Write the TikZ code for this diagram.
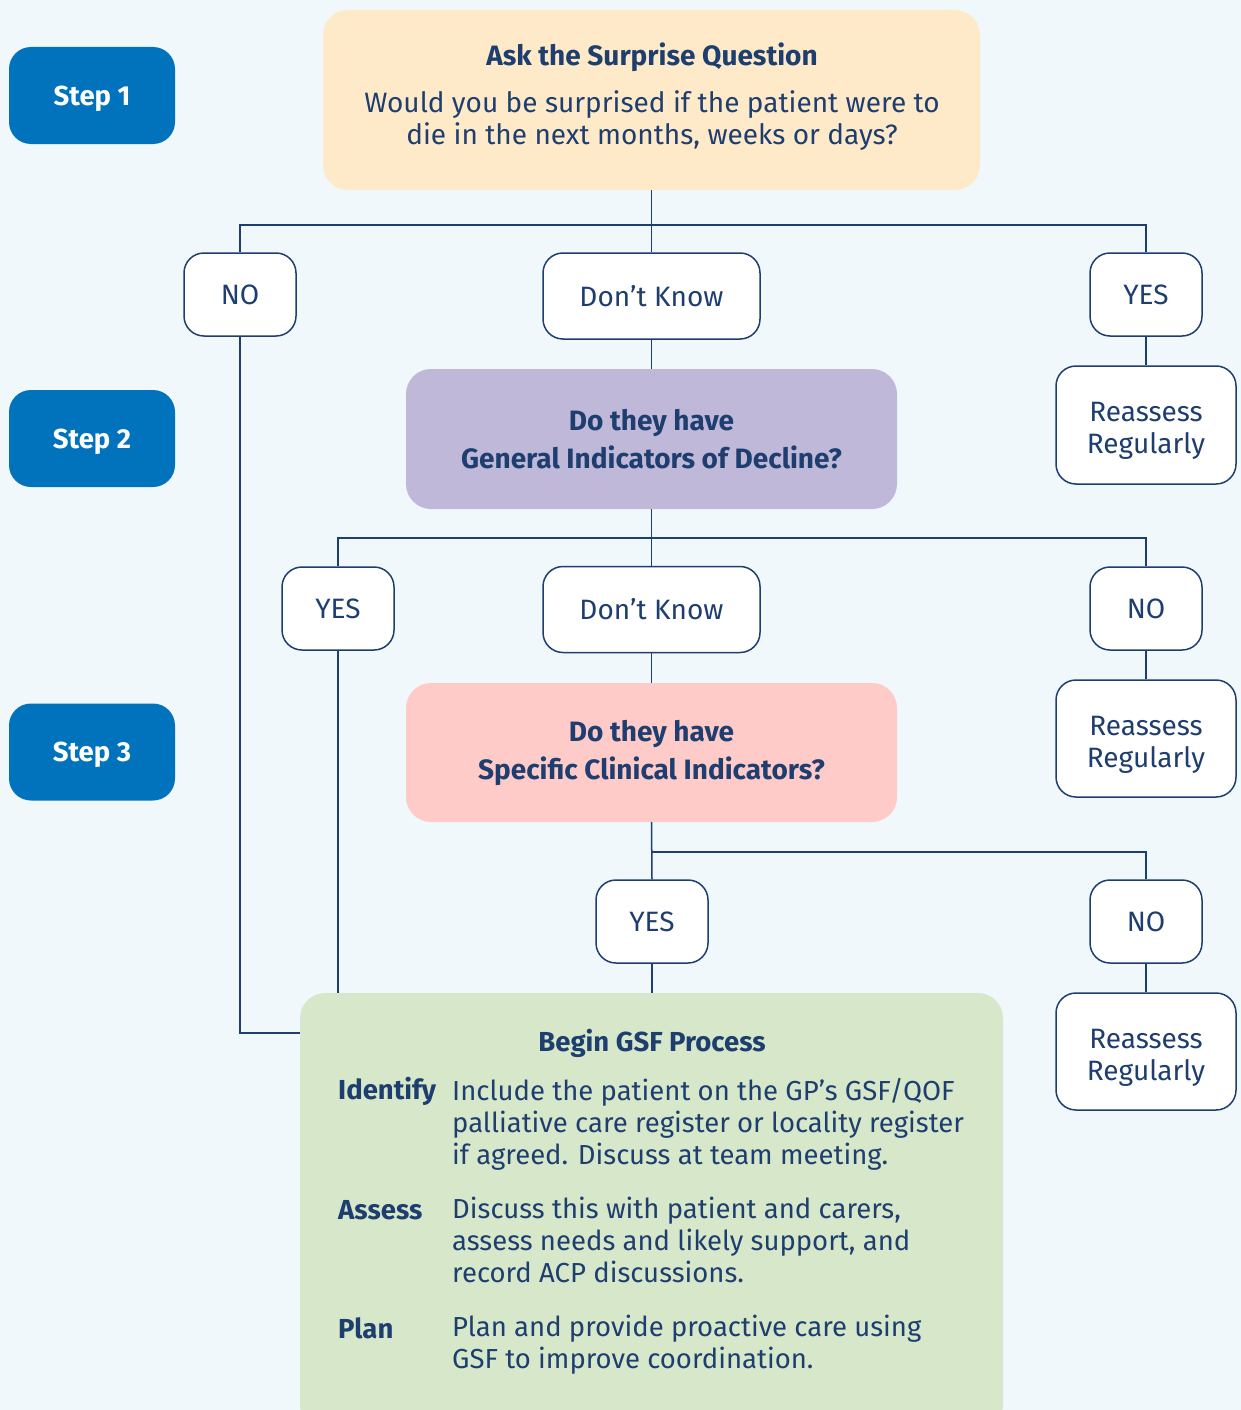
\documentclass[tikz,border=0pt]{standalone}
\usepackage{fontspec}
\setmainfont{Fira Sans}

\definecolor{bgblue}{RGB}{240,248,252}
\definecolor{stepblue}{RGB}{0,115,188}
\definecolor{peach}{RGB}{254,234,200}
\definecolor{lilac}{RGB}{191,184,216}
\definecolor{rose}{RGB}{254,203,200}
\definecolor{sage}{RGB}{214,232,201}
\definecolor{navy}{RGB}{30,62,112}

% invisible strut to lower two-line answers a little
\newcommand{\lowerstrut}{\rule{0pt}{31pt}}

\begin{document}
\begin{tikzpicture}[x=1pt,y=-1pt,
		stepbox/.style={fill=stepblue, rounded corners=22pt, minimum width=166pt, minimum height=97pt, inner sep=0pt, text depth=0pt, text=white, font=\fontsize{27.5}{32}\selectfont\bfseries},
		answer/.style={draw=navy, line width=1.5pt, fill=white, rounded corners=20pt, minimum width=112pt, minimum height=83pt, inner sep=0pt, text=navy, font=\fontsize{28}{32}\selectfont},
		reassess/.style={answer, minimum width=180pt, minimum height=118pt, align=center},
		question/.style={rounded corners=25pt, inner sep=0pt, text=navy, align=center},
		gsftext/.style={inner sep=0pt, text=navy, font=\fontsize{27.5}{32}\selectfont},
		link/.style={draw=navy, line width=1.5pt}]

			\clip (0,0) rectangle (1241,1410);
			\fill[bgblue] (0,0) rectangle (1241,1410);

			% step labels
			\node[stepbox] (step1) at (92,95.5) {Step 1};
			\node[stepbox] (step2) at (92,438.5) {Step 2};
			\node[stepbox] (step3) at (92,752) {Step 3};

			% questions
			\node[question, fill=peach, minimum width=657pt, minimum height=180pt] (ask) at (651.5,100) {};
			\node[text=navy, font=\fontsize{28}{32}\selectfont\bfseries] (asktitle) at (652,57) {Ask the Surprise Question};
			\node[text=navy, align=center, font=\fontsize{28}{32}\selectfont] (asktext) at (652,121) {Would you be surprised if the patient were to\\die in the next months, weeks or days?};

			\node[question, fill=lilac, minimum width=491pt, minimum height=140pt, font=\fontsize{28}{38}\selectfont\bfseries] (gid) at (651.5,439) {Do they have\\General Indicators of Decline?};
			\node[question, fill=rose, minimum width=491pt, minimum height=139pt, font=\fontsize{28}{38}\selectfont\bfseries] (sci) at (651.5,752.5) {Do they have\\Specific Clinical Indicators?};

			% answers, first row
			\node[answer] (no1) at (240,294.5) {NO};
			\node[answer, minimum width=217pt, minimum height=86pt] (dk1) at (651.5,296) {Don’t Know};
			\node[answer] (yes1) at (1146,294.5) {YES};
			\node[reassess] (re1) at (1146,425) {\lowerstrut Reassess\\Regularly};

			% answers, second row
			\node[answer] (yes2) at (338,608.5) {YES};
			\node[answer, minimum width=217pt, minimum height=86pt] (dk2) at (651.5,609.5) {Don’t Know};
			\node[answer] (no2) at (1146,608.5) {NO};
			\node[reassess, minimum height=117pt] (re2) at (1146,738.5) {\lowerstrut Reassess\\Regularly};

			% answers, third row
			\node[answer] (yes3) at (652,921.5) {YES};
			\node[answer] (no3) at (1146,921.5) {NO};
			\node[reassess, minimum height=117pt] (re3) at (1146,1051.5) {\lowerstrut Reassess\\Regularly};

			% GSF box
			\node[question, fill=sage, minimum width=703pt, minimum height=437pt] (gsf) at (651.5,1211.5) {};
			\node[gsftext, font=\fontsize{27.5}{32}\selectfont\bfseries] (gsftitle) at (652,1043) {Begin GSF Process};
			\node[gsftext, anchor=west, font=\fontsize{27.5}{32}\selectfont\bfseries] (lid) at (338,1091) {Identify};
			\node[gsftext, anchor=west, font=\fontsize{27.5}{32}\selectfont\bfseries] (las) at (338,1210) {Assess};
			\node[gsftext, anchor=west, font=\fontsize{27.5}{32}\selectfont\bfseries] (lpl) at (338,1328) {Plan};
			\node[gsftext, anchor=north west, align=left] (tid) at (452,1078) {Include the patient on the GP’s GSF/QOF\\palliative care register or locality register\\if agreed. Discuss at team meeting.};
			\node[gsftext, anchor=north west, align=left] (tas) at (452,1197) {Discuss this with patient and carers,\\assess needs and likely support, and\\record ACP discussions.};
			\node[gsftext, anchor=north west, align=left] (tpl) at (452,1315) {Plan and provide proactive care using\\GSF to improve coordination.};

			% junctions
			\coordinate (j1) at (0,225);
			\coordinate (j2) at (0,538);
			\coordinate (j3) at (0,852);
			\coordinate (j4) at (300,1033);

			% connectors
			\draw[link] (ask.south) -- (dk1.north);
			\draw[link] (no1.north) -- (no1.north |- j1) -- (yes1.north |- j1) -- (yes1.north);
			\draw[link] (dk1.south) -- (gid.north);
			\draw[link] (yes1.south) -- (re1.north);
			\draw[link] (gid.south) -- (dk2.north);
			\draw[link] (yes2.north) -- (yes2.north |- j2) -- (no2.north |- j2) -- (no2.north);
			\draw[link] (dk2.south) -- (sci.north);
			\draw[link] (no2.south) -- (re2.north);
			\draw[link] (sci.south) -- (yes3.north);
			\draw[link] (sci.south |- j3) -- (no3.north |- j3) -- (no3.north);
			\draw[link] (no3.south) -- (re3.north);
			\draw[link] (yes3.south) -- (yes3.south |- gsf.north);
			\draw[link] (yes2.south) -- (yes2.south |- gsf.north);
			\draw[link] (no1.south) |- (j4);

		\end{tikzpicture}
\end{document}
